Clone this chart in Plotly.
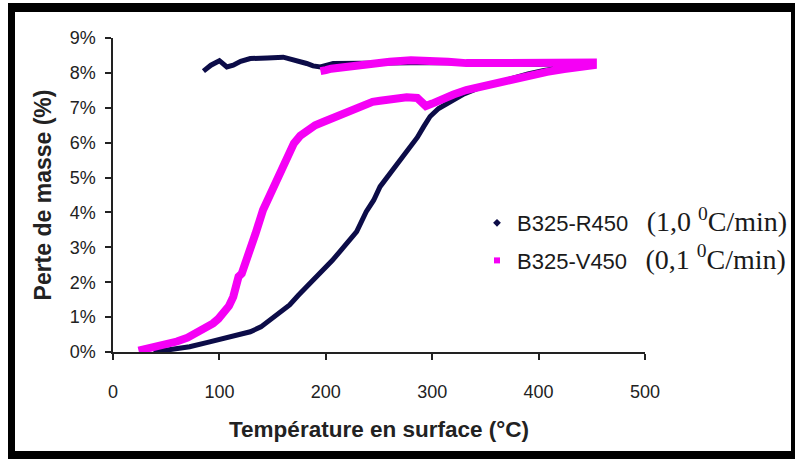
import plotly.graph_objects as go

# Mass loss vs surface temperature, heating then cooling back
r450_temp = [38, 55, 72, 88, 104, 117, 129, 139, 148, 157, 166, 174, 182, 190, 198, 206, 213, 221,
             229, 238, 245, 251, 259, 267, 273, 279, 286, 292, 298, 306, 314, 330, 345, 360, 375,
             390, 405, 420, 435, 450,
             445, 425, 400, 376, 340, 300, 260, 230, 213, 207, 195, 188, 182, 170, 160, 145, 129,
             120, 113, 107, 100, 92, 85]
r450_loss = [0.00, 0.06, 0.15, 0.27, 0.39, 0.49, 0.58, 0.72, 0.92, 1.12, 1.35, 1.62, 1.87, 2.08,
             2.35, 2.62, 2.87, 3.15, 3.45, 4.02, 4.35, 4.74, 5.05, 5.41, 5.62, 5.88, 6.15, 6.46,
             6.75, 6.98, 7.13, 7.40, 7.58, 7.72, 7.85, 7.97, 8.07, 8.15, 8.22, 8.28,
             8.30, 8.26, 8.25, 8.27, 8.28, 8.30, 8.28, 8.27, 8.26, 8.27, 8.17, 8.20, 8.27, 8.35,
             8.45, 8.43, 8.41, 8.33, 8.22, 8.17, 8.35, 8.22, 8.05]

v450_temp = [24, 32, 41, 50, 60, 70, 79, 87, 94, 99, 104, 109, 113, 116, 118, 121, 126, 130, 134,
             141, 146, 151, 156, 160, 165, 170, 176, 182, 190, 198, 207, 217, 226, 235, 244, 251,
             263, 276, 286, 294, 300, 307, 320, 332, 345, 360, 376, 392, 408, 424, 439, 451,
             451, 440, 423, 400, 376, 350, 332, 315, 298, 280, 260, 245, 230, 213, 205, 200, 195]
v450_loss = [0.04, 0.09, 0.15, 0.21, 0.30, 0.41, 0.54, 0.67, 0.82, 0.95, 1.11, 1.32, 1.58, 1.85,
             2.16, 2.25, 2.64, 2.98, 3.40, 4.07, 4.40, 4.74, 5.10, 5.41, 5.72, 5.98, 6.20, 6.36,
             6.50, 6.60, 6.72, 6.84, 6.96, 7.08, 7.17, 7.20, 7.25, 7.30, 7.28, 7.05, 7.12, 7.22,
             7.38, 7.51, 7.60, 7.72, 7.84, 7.94, 8.03, 8.11, 8.17, 8.22,
             8.30, 8.30, 8.25, 8.27, 8.28, 8.28, 8.28, 8.32, 8.36, 8.36, 8.32, 8.28, 8.22, 8.18,
             8.12, 8.08, 8.05]

series_names = ["B325-R450", "B325-V450"]
series_rates = ["(1,0 ", "(0,1 "]
x_ticks = [0, 100, 200, 300, 400, 500]
y_ticks = [0, 1, 2, 3, 4, 5, 6, 7, 8, 9]
y_tick_labels = [f"{v}%" for v in y_ticks]

NAVY = "#0c0c48"
MAGENTA = "#f500f5"

W, H = 795, 459
ML, MR, MT, MB = 113, 150, 38, 107
PW, PH = W - ML - MR, H - MT - MB


def px_x(px):
    return (px - ML) / PW


def px_y(py):
    return (H - MB - py) / PH


def legend_label(name, rate):
    return (name + "\u00a0\u00a0\u00a0"
            + "<span style='font-family:Liberation Serif;font-size:28px'>" + rate
            + "<sup>0</sup>C/min)</span>")


fig = go.Figure()

fig.add_trace(go.Scatter(x=r450_temp, y=r450_loss, mode="lines",
                         line=dict(color=NAVY, width=5), showlegend=False))
fig.add_trace(go.Scatter(x=v450_temp, y=v450_loss, mode="lines",
                         line=dict(color=MAGENTA, width=8), showlegend=False))

# legend entries drawn as small markers, like the point series they stand for
fig.add_trace(go.Scatter(x=[None], y=[None], mode="markers", name=legend_label(series_names[0], series_rates[0]),
                         marker=dict(color=NAVY, size=6, symbol="diamond"), legendgroup="a"))
fig.add_trace(go.Scatter(x=[None], y=[None], mode="markers", name=legend_label(series_names[1], series_rates[1]),
                         marker=dict(color=MAGENTA, size=6, symbol="square"), legendgroup="b"))

# black picture frame
frame = [(8, 3, 15, 459), (8, 3, 795, 12), (791, 3, 795, 459), (8, 451, 795, 459)]
shapes = []
for x0, y0, x1, y1 in frame:
    shapes.append(dict(type="rect", xref="paper", yref="paper",
                       x0=px_x(x0), x1=px_x(x1), y0=px_y(y1), y1=px_y(y0),
                       fillcolor="black", line=dict(width=0), layer="above"))

fig.update_layout(
    width=W, height=H,
    margin=dict(l=ML, r=MR, t=MT, b=MB, autoexpand=False),
    paper_bgcolor="white", plot_bgcolor="white",
    font=dict(family="Liberation Sans, Arial", color="#222222"),
    shapes=shapes,
    legend=dict(x=px_x(477), y=px_y(242), xanchor="left", yanchor="middle",
                bgcolor="rgba(0,0,0,0)", font=dict(size=22, color="#1a1a1a"),
                tracegroupgap=6, itemwidth=30),
    xaxis=dict(range=[0, 500], tickvals=x_ticks, ticktext=[str(v) for v in x_ticks],
               showgrid=False, zeroline=False, showline=True, linecolor="#222222", linewidth=1.5,
               ticks="outside", ticklen=6, tickwidth=1.5, tickcolor="#222222",
               tickfont=dict(size=18), ticklabelstandoff=17,
               title=dict(text="<b>Température en surface (°C)</b>", font=dict(size=22.5), standoff=20)),
    yaxis=dict(range=[0, 9], tickvals=y_ticks, ticktext=y_tick_labels,
               showgrid=False, zeroline=False, showline=True, linecolor="#222222", linewidth=1.5,
               ticks="outside", ticklen=6, tickwidth=1.5, tickcolor="#222222",
               tickfont=dict(size=18), ticklabelstandoff=6,
               title=dict(text="<b>Perte de masse (%)</b>", font=dict(size=23), standoff=12)),
)

fig.write_html("out.html")
